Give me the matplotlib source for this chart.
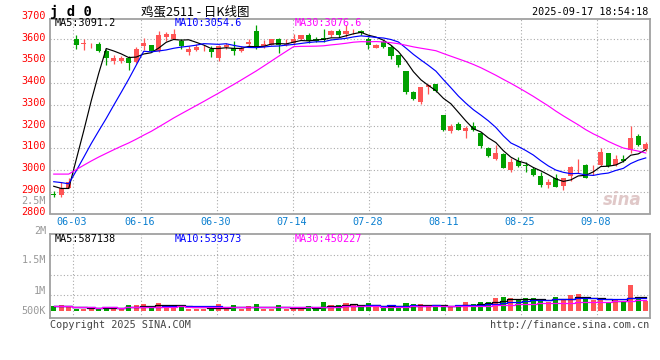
import numpy as np
import pandas as pd
import matplotlib
matplotlib.use("Agg")
import matplotlib.pyplot as plt

# ---------------- data ----------------
date_labels = ["06-03", "06-16", "06-30", "07-14", "07-28", "08-11", "08-25", "09-08"]
date_index = [3, 12, 22, 32, 42, 52, 62, 72]

opens = [2890, 2885, 2919, 3603, 3578, 3572, 3580, 3547, 3501, 3499,
         3514, 3496, 3568, 3572, 3545, 3611, 3603, 3591, 3542, 3550,
         3559, 3554, 3514, 3563, 3560, 3548, 3577, 3638, 3565, 3576,
         3603, 3572, 3583, 3600, 3618, 3603, 3608, 3618, 3637, 3626,
         3636, 3640, 3600, 3560, 3588, 3566, 3527, 3453, 3359, 3313,
         3382, 3397, 3252, 3178, 3209, 3178, 3203, 3172, 3099, 3050,
         3071, 2998, 3041, 3019, 3004, 2974, 2931, 2961, 2928, 2974,
         3021, 3022, 2998, 3022, 3080, 3022, 3050, 3091, 3157, 3096]
highs = [2903, 2946, 2961, 3618, 3600, 3585, 3588, 3554, 3530, 3524,
         3524, 3566, 3608, 3575, 3637, 3634, 3649, 3603, 3569, 3579,
         3576, 3569, 3572, 3585, 3591, 3569, 3603, 3664, 3595, 3603,
         3608, 3600, 3626, 3621, 3631, 3611, 3649, 3641, 3649, 3664,
         3649, 3643, 3611, 3578, 3595, 3572, 3530, 3453, 3362, 3383,
         3397, 3397, 3252, 3213, 3218, 3203, 3218, 3175, 3106, 3114,
         3076, 3053, 3061, 3038, 3015, 2989, 2958, 2980, 2964, 3019,
         3050, 3029, 3022, 3102, 3080, 3068, 3068, 3203, 3163, 3129]
lows = [2874, 2874, 2919, 3554, 3550, 3560, 3542, 3484, 3488, 3493,
        3458, 3493, 3551, 3542, 3542, 3591, 3600, 3557, 3530, 3545,
        3545, 3519, 3502, 3557, 3530, 3542, 3565, 3554, 3560, 3572,
        3536, 3570, 3576, 3598, 3585, 3588, 3588, 3611, 3611, 3611,
        3626, 3621, 3557, 3558, 3560, 3508, 3473, 3351, 3320, 3305,
        3351, 3359, 3180, 3172, 3183, 3148, 3178, 3102, 3061, 3045,
        3007, 2992, 3015, 2992, 2974, 2923, 2915, 2920, 2908, 2949,
        2984, 2961, 2977, 3019, 3015, 3019, 3038, 3076, 3111, 3087]
closes = [2887, 2915, 2943, 3572, 3581, 3575, 3547, 3514, 3516, 3514,
          3491, 3557, 3585, 3545, 3621, 3623, 3623, 3569, 3554, 3563,
          3561, 3542, 3569, 3572, 3548, 3560, 3588, 3562, 3580, 3600,
          3572, 3580, 3603, 3618, 3591, 3592, 3595, 3638, 3618, 3638,
          3638, 3628, 3572, 3576, 3566, 3522, 3481, 3359, 3328, 3380,
          3392, 3362, 3183, 3203, 3183, 3194, 3183, 3111, 3065, 3076,
          3007, 3035, 3019, 3018, 2977, 2931, 2946, 2922, 2961, 3012,
          3022, 2961, 3000, 3084, 3019, 3050, 3041, 3145, 3114, 3117]
# closes before the visible window (only feed the moving averages)
pre_closes = [2915, 2943, 2960, 2975, 2990, 3000, 3010, 3020, 3030, 3035,
              3040, 3030, 3020, 3015, 3010, 3000, 2995, 2990, 2995, 2997,
              2955, 3000, 2975, 2960, 2945, 2965, 2943, 2910, 2920]

# volume in thousands of lots
volumes_k = [208, 249, 208, 111, 111, 111, 111, 166, 166, 111,
             249, 249, 290, 208, 332, 249, 249, 249, 111, 111,
             111, 111, 290, 111, 249, 111, 208, 290, 111, 111,
             249, 111, 111, 166, 208, 111, 374, 249, 249, 332,
             249, 166, 332, 166, 166, 249, 166, 332, 290, 290,
             249, 249, 249, 166, 194, 374, 290, 400, 400, 540,
             580, 540, 456, 540, 540, 440, 400, 600, 480, 680,
             720, 498, 456, 456, 360, 456, 387, 1100, 595, 420]
volumes = [v * 1000 for v in volumes_k]

price_ticks = [2800, 2900, 3000, 3100, 3200, 3300, 3400, 3500, 3600, 3700]

# ---------------- style ----------------
RED = "#ff5555"
GREEN = "#00a000"
GRID = "#aaaaaa"
BORDER = "#a0a0a0"
MONO = "DejaVu Sans Mono"
W, H = 660, 360

n = len(closes)
x = np.arange(n)
all_c = pd.Series(pre_closes + closes)
ma5 = all_c.rolling(5).mean().values[-n:]
ma10 = all_c.rolling(10).mean().values[-n:]
ma30 = all_c.rolling(30).mean().values[-n:]
vs = pd.Series(volumes)
vma5 = vs.rolling(5, min_periods=1).mean().values
vma10 = vs.rolling(10, min_periods=1).mean().values
vma30 = vs.rolling(30, min_periods=1).mean().values

fig = plt.figure(figsize=(W / 100, H / 100), dpi=100)


def rect(l, t, r, b):
    return [l / W, 1 - b / H, (r - l) / W, (b - t) / H]


ax = fig.add_axes(rect(50, 19.3, 649.5, 213.5))
axv = fig.add_axes(rect(50, 234.3, 649.5, 318.3))

grid_x = [i * 7.6 / 7.5 - 0.5 for i in date_index]

for a in (ax, axv):
    a.set_xlim(-0.5, n - 0.5)
    for s in a.spines.values():
        s.set_color(BORDER)
        s.set_linewidth(1.3)
    a.set_xticks([])
    a.set_yticks([])
    for gx in grid_x:
        a.axvline(gx, color=GRID, lw=0.8, ls=(0, (1, 2)), zorder=0)

# ---- price panel ----
ax.set_ylim(2800, 3692)
for v in price_ticks[1:-1]:
    ax.axhline(v, color=GRID, lw=0.8, ls=(0, (1, 2)), zorder=0)
for v in price_ticks:
    ax.text(-0.007, v + 8, str(v), transform=ax.get_yaxis_transform(),
            ha="right", va="center", color="#ff0000", fontsize=7.3,
            family=MONO, clip_on=False)

for i in range(n):
    o, h, l, c = opens[i], highs[i], lows[i], closes[i]
    col = RED if c >= o else GREEN
    ax.vlines(i, l, h, color=col, lw=0.9, zorder=2)
    ax.bar(i, max(abs(c - o), 2.5), bottom=min(o, c), width=0.68,
           color=col, linewidth=0, zorder=3)

ax.plot(x, ma5, color="black", lw=0.85, zorder=4)
ax.plot(x, ma10, color="#0000ff", lw=0.85, zorder=4)
ax.plot(x, ma30, color="#ff00ff", lw=0.85, zorder=4)

# ---- volume panel ----
axv.set_ylim(-290e3, 3.2e6)
for v in [676e3, 1.506e6, 2.336e6]:
    axv.axhline(v, color=GRID, lw=0.8, ls=(0, (1, 2)), zorder=0)
vcols = [RED if closes[i] >= opens[i] else GREEN for i in range(n)]
axv.bar(x, volumes, width=0.68, color=vcols, linewidth=0, zorder=2)
axv.plot(x, vma5, color="black", lw=0.9, drawstyle="steps-mid", zorder=3)
axv.plot(x, vma10, color="#0000ff", lw=0.9, drawstyle="steps-mid", zorder=3)
axv.plot(x, vma30, color="#ff00ff", lw=0.9, drawstyle="steps-mid", zorder=3)

# ---- texts (pixel coords) ----
def ftext(px, py, s, **kw):
    fig.text(px / W, 1 - py / H, s, **kw)

for lab, gx in zip(date_labels, grid_x):
    ax.text(gx - 0.15, -0.042, lab, transform=ax.get_xaxis_transform(),
            ha="center", va="center", color="#0a7fd0", fontsize=7.3, family=MONO)

ftext(46, 200.7, "2.5M", ha="right", va="center", color="#999999", fontsize=7.3, family=MONO)
for py, s in [(230.7, "2M"), (260, "1.5M"), (290.7, "1M"), (311, "500K")]:
    ftext(46, py, s, ha="right", va="center", color="#999999", fontsize=7.3, family=MONO)

ftext(50, 12, "j d 0", ha="left", va="center", color="black", fontsize=10,
      family=MONO, fontweight="bold")
ftext(141, 12, "鸡蛋2511 - 日K线图", ha="left", va="center", color="black",
      fontsize=9, family=["Noto Sans CJK SC", "DejaVu Sans"])
ftext(648, 12, "2025-09-17 18:54:18", ha="right", va="center", color="black",
      fontsize=7.3, family=MONO)

ftext(55, 23.5, "MA5:3091.2", ha="left", va="center", color="black", fontsize=7.3, family=MONO)
ftext(175, 23.5, "MA10:3054.6", ha="left", va="center", color="#0000ff", fontsize=7.3, family=MONO)
ftext(295, 23.5, "MA30:3076.6", ha="left", va="center", color="#ff00ff", fontsize=7.3, family=MONO)

ftext(55, 238.5, "MA5:587138", ha="left", va="center", color="black", fontsize=7.3, family=MONO)
ftext(175, 238.5, "MA10:539373", ha="left", va="center", color="#0000ff", fontsize=7.3, family=MONO)
ftext(295, 238.5, "MA30:450227", ha="left", va="center", color="#ff00ff", fontsize=7.3, family=MONO)

ftext(50, 324.5, "Copyright 2025 SINA.COM", ha="left", va="center", color="#444444",
      fontsize=7.3, family=MONO)
ftext(649, 324.5, "http://finance.sina.com.cn", ha="right", va="center", color="#444444",
      fontsize=7.3, family=MONO)

ftext(622, 200, "sina", ha="center", va="center", color="#e0c8c8", fontsize=12,
      fontweight="bold", style="italic", family="DejaVu Sans")

fig.savefig("out.png", dpi=100)
